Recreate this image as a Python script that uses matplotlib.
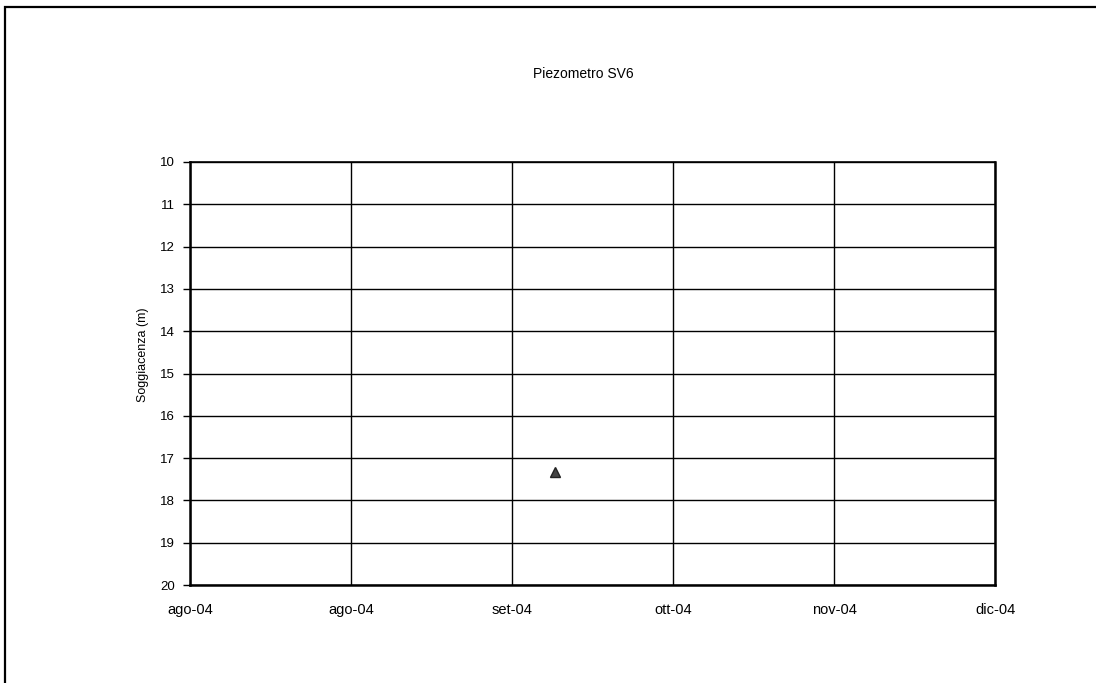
import datetime
import matplotlib
matplotlib.use("Agg")
import matplotlib.pyplot as plt
from matplotlib.patches import Rectangle

# data
dates = [datetime.date(2004, 10, 8)]
depth = [17.33]

tick_dates = [datetime.date(2004, 8, 1) + datetime.timedelta(days=30 * i) for i in range(6)]
tick_labels = ["ago-04", "ago-04", "set-04", "ott-04", "nov-04", "dic-04"]
y_ticks = list(range(10, 21))

plt.rcParams["font.family"] = ["Liberation Sans", "DejaVu Sans"]

fig = plt.figure(figsize=(10.96, 6.83), dpi=100)

# outer chart frame (cut by the scan on right and bottom)
fig.patches.append(Rectangle((5 / 1096, -0.05), 1.2, 0.05 + 1 - 7 / 683,
                             transform=fig.transFigure, fill=False,
                             edgecolor="black", linewidth=1.6))

ax = fig.add_axes([190 / 1096, 1 - 585 / 683, 805 / 1096, 423 / 683])
ax.plot(dates, depth, linestyle="none", marker="^", markersize=7,
        color="#444444", markeredgecolor="#222222")

ax.set_xlim(tick_dates[0], tick_dates[-1])
ax.set_ylim(20, 10)
ax.set_xticks(tick_dates)
ax.set_xticklabels(tick_labels)
ax.set_yticks(y_ticks)

ax.grid(True, color="black", linewidth=1.0)
ax.set_axisbelow(True)
for side in ["left", "bottom", "right"]:
    ax.spines[side].set_linewidth(1.8)
ax.spines["top"].set_linewidth(1.2)

ax.tick_params(axis="y", length=5, width=1, labelsize=9.5, pad=6)
ax.tick_params(axis="x", length=0, labelsize=10.5, pad=13)

ax.set_ylabel("Soggiacenza (m)", fontsize=9)
ax.yaxis.set_label_coords(-0.051, 0.545)
fig.text(583 / 1096, 1 - 74 / 683, "Piezometro SV6", ha="center", va="center", fontsize=10)

fig.savefig("out.png", dpi=100)
